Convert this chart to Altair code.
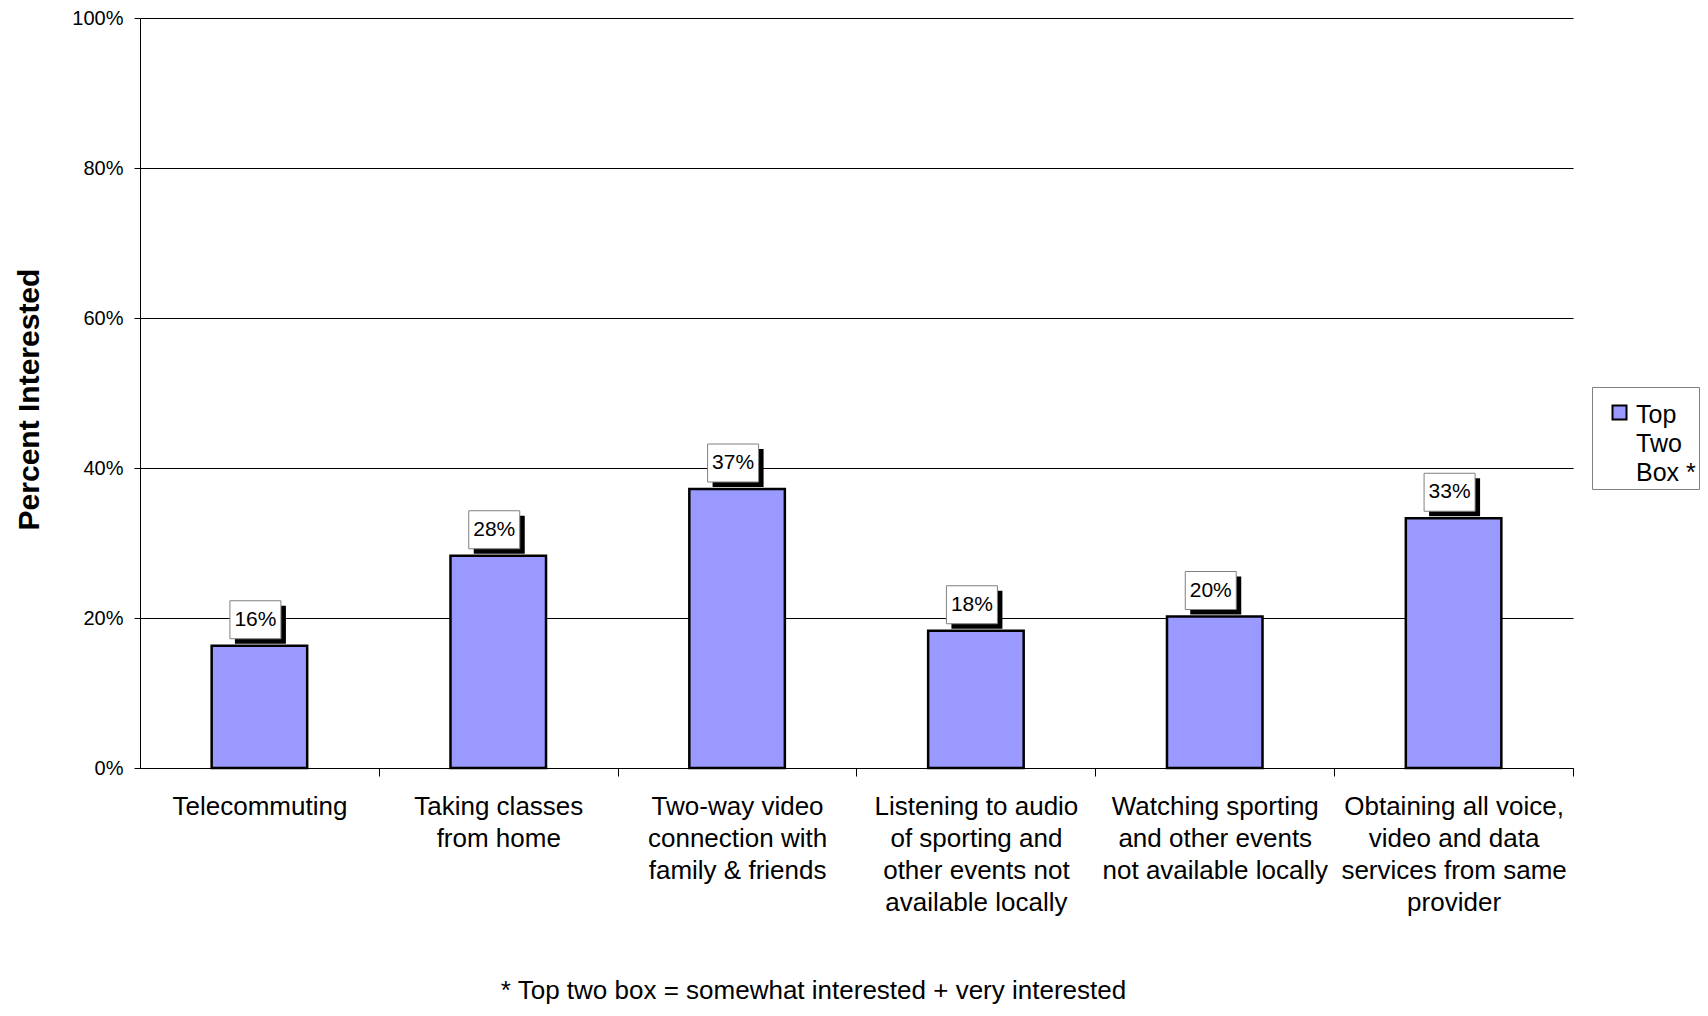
import altair as alt
import pandas as pd

# ---- data ----
categories = [
    "Telecommuting",
    "Taking classes|from home",
    "Two-way video|connection with|family & friends",
    "Listening to audio|of sporting and|other events not|available locally",
    "Watching sporting|and other events|not available locally",
    "Obtaining all voice,|video and data|services from same|provider",
]
values = [0.163, 0.283, 0.372, 0.183, 0.202, 0.333]
series_name = "Top|Two|Box *"
y_ticks = [0, 0.2, 0.4, 0.6, 0.8, 1.0]
y_title = "Percent Interested"
footnote = "* Top two box = somewhat interested + very interested"

df = pd.DataFrame({"category": categories, "value": values, "series": [series_name] * len(categories)})

FONT = "Liberation Sans"
PLOT_W = 1433
PLOT_H = 750
step = PLOT_W / len(categories)

box_path = "M-1,-0.745L1,-0.745L1,0.745L-1,0.745Z"
legend_path = "M-1,0.43H1V2.43H-1Z"

x_enc = alt.X(
    "category:N",
    sort=categories,
    scale=alt.Scale(paddingInner=0.6, paddingOuter=0.3),
    axis=alt.Axis(
        title=None,
        labelExpr="split(datum.label, '|')",
        labelAngle=0,
        labelFont=FONT,
        labelFontSize=26,
        labelColor="black",
        labelLineHeight=32,
        labelBaseline="top",
        labelPadding=17,
        labelLimit=400,
        labelOverlap=False,
        tickOffset=step / 2,
        labelOffset=-step / 2,
        ticks=True,
        tickSize=8,
        tickColor="black",
        domainColor="black",
        grid=False,
    ),
)
y_enc = alt.Y(
    "value:Q",
    scale=alt.Scale(domain=[0, 1]),
    axis=alt.Axis(
        title=y_title,
        values=y_ticks,
        format=".0%",
        titleFont=FONT,
        titleFontSize=30,
        titleFontWeight="bold",
        titleColor="black",
        titlePadding=27,
        titleY=381,
        labelFont=FONT,
        labelFontSize=20,
        labelColor="black",
        labelPadding=11,
        tickSize=6,
        tickColor="black",
        domainColor="black",
        gridColor="black",
        gridOpacity=1,
        gridWidth=1,
    ),
)

base = alt.Chart(df).encode(x=x_enc, y=y_enc)

bars = base.mark_bar(stroke="black", strokeWidth=2.5, opacity=1).encode(
    color=alt.Color(
        "series:N",
        scale=alt.Scale(range=["#9999FF"]),
        legend=alt.Legend(
            title=None,
            orient="none",
            legendX=1452,
            legendY=369,
            labelExpr="split(datum.label, '|')",
            labelFont=FONT,
            labelFontSize=25,
            labelColor="black",
            labelBaseline="top",
            labelOffset=4,
            symbolType=legend_path,
            symbolSize=196,
            symbolStrokeColor="black",
            symbolStrokeWidth=2,
            symbolOffset=12,
            strokeColor="#808080",
            fillColor="white",
            padding=3,
        ),
    )
)

shadow = base.mark_point(
    shape=box_path, size=2601, filled=True, color="black", opacity=1, xOffset=1, yOffset=-21
)
box = base.mark_point(
    shape=box_path, size=2601, filled=True, fill="white", stroke="#808080",
    strokeWidth=1, opacity=1, xOffset=-4, yOffset=-26
)
text = base.mark_text(
    font=FONT, fontSize=21, color="black", align="center", baseline="middle",
    xOffset=-4, yOffset=-26
).encode(text=alt.Text("value:Q", format=".0%"))

chart = (
    alt.layer(bars, shadow, box, text)
    .properties(
        width=PLOT_W,
        height=PLOT_H,
        padding={"left": 6, "top": 0, "right": 0, "bottom": 0},
        background="white",
        title=alt.TitleParams(
            text=footnote,
            orient="bottom",
            anchor="middle",
            font=FONT,
            fontSize=26,
            fontWeight="normal",
            color="black",
            dx=-43,
            offset=63,
        ),
    )
    .configure(style={"guide-label": {"lineHeight": 29}})
    .configure_view(stroke=None)
)

chart.save("out.html", embed_options={"renderer": "svg", "actions": False})
